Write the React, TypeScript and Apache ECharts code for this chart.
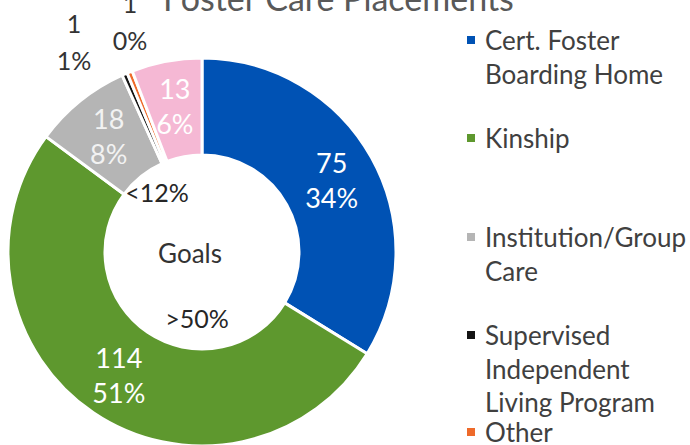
import React, { useEffect, useRef } from "react";
import * as echarts from "echarts";

const categories = [
  "Cert. Foster Boarding Home",
  "Kinship",
  "Institution/Group Care",
  "Supervised Independent Living Program",
  "Other",
  "Unlabelled",
];
const values = [75, 114, 18, 1, 1, 13];
const percentLabels = ["34%", "51%", "8%", "1%", "0%", "6%"];
const colors = ["#0052B4", "#5E982E", "#B5B5B5", "#141414", "#EE6A2A", "#F5B8D4"];
const labelColors = ["#FFFFFF", "#FFFFFF", "#F2F2F2", "#333333", "#333333", "#FFFFFF"];
const legendLines: Record<string, string> = {
  "Cert. Foster Boarding Home": "Cert. Foster\nBoarding Home",
  Kinship: "Kinship",
  "Institution/Group Care": "Institution/Group\nCare",
  "Supervised Independent Living Program": "Supervised\nIndependent\nLiving Program",
  Other: "Other",
};
const legendCenters = [40, 138, 237, 335, 432];
const FONT = "Lato, 'Open Sans', sans-serif";

export default function App() {
  const ref = useRef<HTMLDivElement>(null);
  useEffect(() => {
    if (!ref.current) return;
    const chart = echarts.init(ref.current, undefined, { renderer: "svg" });
    const LH = 33.5;
    const legends = categories.slice(0, 5).map((name, i) => {
      const n = legendLines[name].split("\n").length;
      const H = n * LH;
      const sq = LH / 2 - 4;
      const icon = `path://M0,0h0.01v0.01h-0.01z M0,${sq}h8v8h-8z M7.99,${H - 0.01}h0.01v0.01h-0.01z`;
      return {
        data: [name],
        orient: "vertical",
        left: 467,
        top: legendCenters[i] - LH / 2,
        padding: 0,
        itemWidth: 8,
        itemHeight: H,
        icon,
        symbolKeepAspect: false,
        selectedMode: false,
        itemStyle: { borderWidth: 0 },
        formatter: (nm: string) => legendLines[nm],
        textStyle: {
          fontFamily: FONT,
          fontSize: 26,
          color: "#404040",
          lineHeight: LH,
          padding: [0, 0, 0, 5],
        },
      };
    });
    chart.setOption({
      animation: false,
      legend: legends,
      graphic: [
        {
          type: "text",
          left: 163,
          top: -20,
          style: { text: "Foster Care Placements", font: `34px ${FONT}`, fill: "#595959" },
        },
        {
          type: "text",
          x: 190,
          y: 253,
          style: { text: "Goals", font: `26px ${FONT}`, fill: "#333333", align: "center", verticalAlign: "middle" },
        },
        {
          type: "text",
          x: 157,
          y: 192,
          style: { text: "<12%", font: `25px ${FONT}`, fill: "#262626", align: "center", verticalAlign: "middle" },
        },
        {
          type: "text",
          x: 197,
          y: 318,
          style: { text: ">50%", font: `25px ${FONT}`, fill: "#262626", align: "center", verticalAlign: "middle" },
        },
      ],
      series: [
        {
          type: "pie",
          center: [202, 252],
          radius: [97, 194],
          startAngle: 90,
          clockwise: true,
          avoidLabelOverlap: false,
          itemStyle: { borderColor: "#FFFFFF", borderWidth: 3 },
          label: {
            position: "inside",
            fontFamily: FONT,
            fontSize: 27,
            lineHeight: 35,
            formatter: (p: any) => `${p.value}\n${percentLabels[p.dataIndex]}`,
          },
          labelLine: { show: false },
          labelLayout: (p: any) => {
            if (p.dataIndex === 3) return { x: 74, y: 41, align: "center", verticalAlign: "middle" };
            if (p.dataIndex === 4) return { x: 130, y: 21, align: "center", verticalAlign: "middle" };
            return {};
          },
          data: categories.map((name, i) => ({
            name,
            value: values[i],
            itemStyle: { color: colors[i] },
            label: {
              color: labelColors[i],
              position: i === 3 || i === 4 ? "outside" : "inside",
              fontSize: i === 3 || i === 4 ? 25 : 27,
              lineHeight: i === 3 || i === 4 ? 37 : 35,
            },
            labelLine: { show: false },
          })),
        },
      ],
    });
    return () => chart.dispose();
  }, []);
  return (
    <div
      ref={ref}
      style={{ position: "absolute", left: 0, top: 0, width: 690, height: 445, background: "#fff" }}
    />
  );
}
